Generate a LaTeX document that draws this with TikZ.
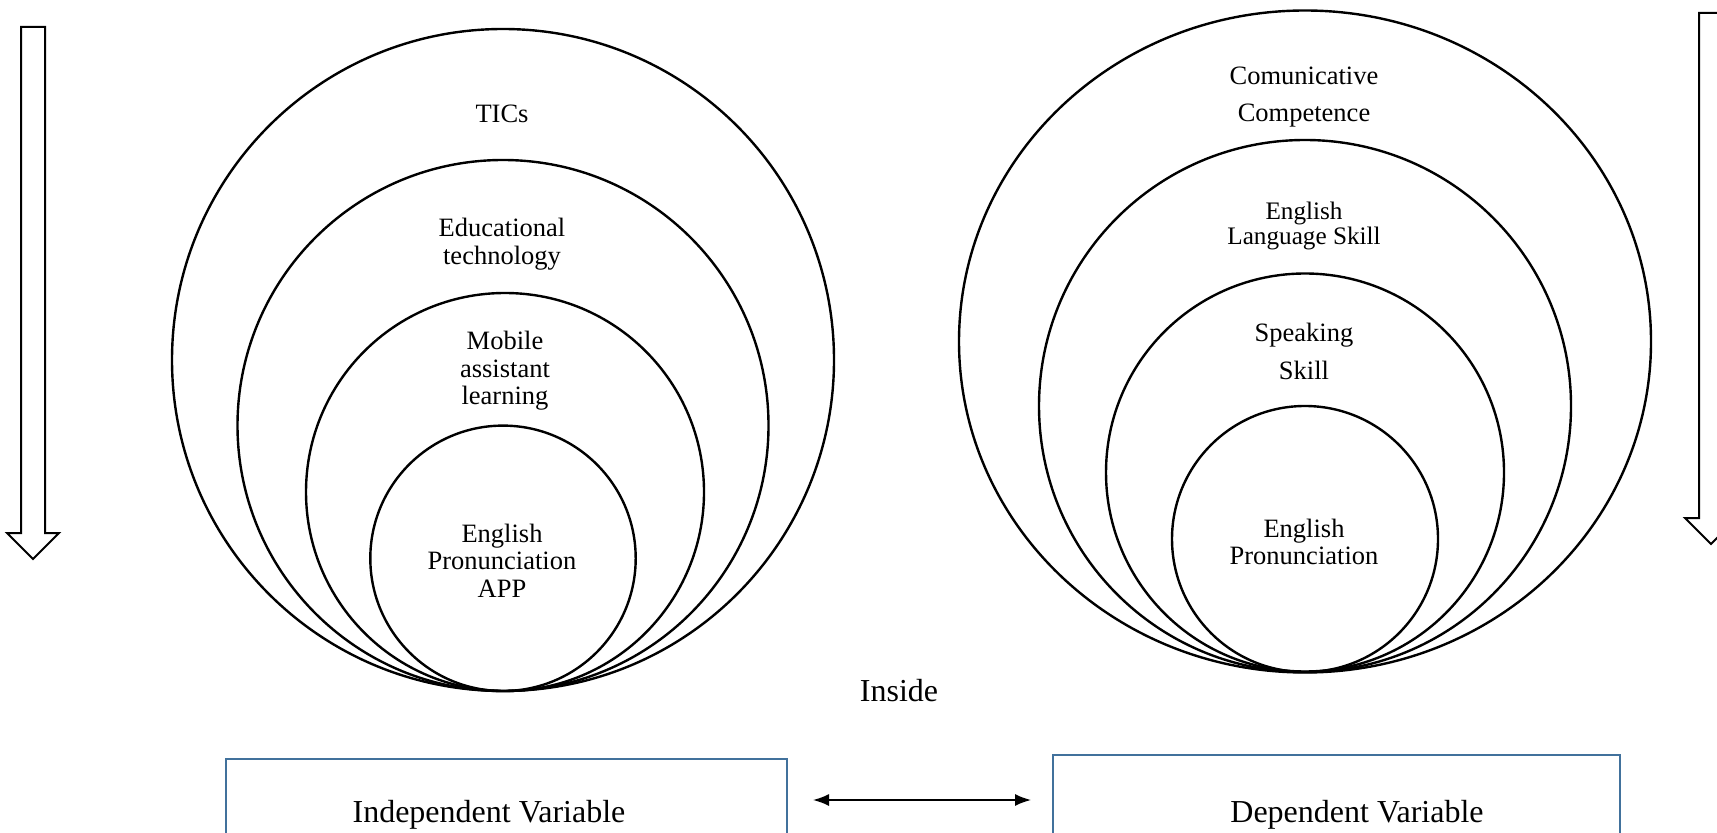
\documentclass[tikz,border=0pt]{standalone}
\usepackage{fontspec}
\setmainfont{Liberation Serif}
\usetikzlibrary{arrows.meta,shapes.geometric}
\definecolor{boxblue}{RGB}{65,113,156}
\begin{document}
\begin{tikzpicture}[x=0.5pt,y=-0.5pt,
  ring/.style={draw,circle,line width=1.2pt,inner sep=0pt},
  lbl/.style={align=center,inner sep=0pt,font=\fontsize{13.25}{13.75}\selectfont},
  bigtxt/.style={inner sep=0pt,font=\fontsize{16}{19}\selectfont},
  varbox/.style={draw=boxblue,line width=1pt,rectangle,inner sep=0pt},
  blockarrow/.style={draw,line width=1pt,line join=miter,fill=white}]
\clip (0,0) rectangle (1717,833);
\fill[white] (0,0) rectangle (1717,833);

% left circles
\node[ring,minimum size=331pt] (L1) at (503,360) {};
\node[ring,minimum size=265.5pt] (L2) at (503,425.5) {};
\node[ring,minimum size=199pt] (L3) at (505,492) {};
\node[ring,minimum size=132.7pt] (L4) at (503,558.3) {};

\node[lbl] (tics) at (502,114) {TICs};
\node[lbl] (edu) at (502,244) {Educational\\technology};
\node[lbl] (mob) at (505,371) {Mobile\\assistant\\learning};
\node[lbl] (app) at (502,560.5) {English\\Pronunciation\\APP};

% right circles
\node[draw,ellipse,line width=1.2pt,inner sep=0pt,minimum width=346pt,minimum height=331pt] (R1) at (1305,341.5) {};
\node[ring,minimum size=266pt] (R2) at (1305,406) {};
\node[ring,minimum size=199pt] (R3) at (1305,472.5) {};
\node[ring,minimum size=133pt] (R4) at (1305,539) {};

\node[lbl,font=\fontsize{13.25}{18.5}\selectfont] (comp) at (1304,97) {Comunicative\\Competence};
\node[lbl,font=\fontsize{12.6}{12.75}\selectfont] (els) at (1304,226) {English\\Language Skill};
\node[lbl,font=\fontsize{13.25}{19}\selectfont] (spk) at (1304,351) {Speaking\\Skill};
\node[lbl,font=\fontsize{13.25}{13.85}\selectfont] (pron) at (1304,542) {English\\Pronunciation};

% block arrows
\draw[blockarrow] (21,27) -- (45,27) -- (45,533) -- (59,533) -- (33,559) -- (7,533) -- (21,533) -- cycle;
\draw[blockarrow] (1699,13) -- (1723,13) -- (1723,518) -- (1737,518) -- (1711,544) -- (1685,518) -- (1699,518) -- cycle;

% bottom
\node[bigtxt] (inside) at (899,691) {Inside};

\node[varbox,minimum width=280.5pt,minimum height=52pt] (indep) at (506.5,811) {};
\node[varbox,minimum width=283.5pt,minimum height=56pt] (dep) at (1336.5,811) {};
\node[bigtxt] (indepText) at (489,815) {Independent Variable};
\node[bigtxt] (depText) at (1357,815) {Dependent Variable};

\draw[line width=0.8pt,{Latex[length=8pt,width=6pt]}-{Latex[length=8pt,width=6pt]}]
  ([xshift=12.5pt,yshift=5.5pt]indep.east) -- ([xshift=-10.5pt,yshift=5.5pt]dep.west);
\end{tikzpicture}
\end{document}
